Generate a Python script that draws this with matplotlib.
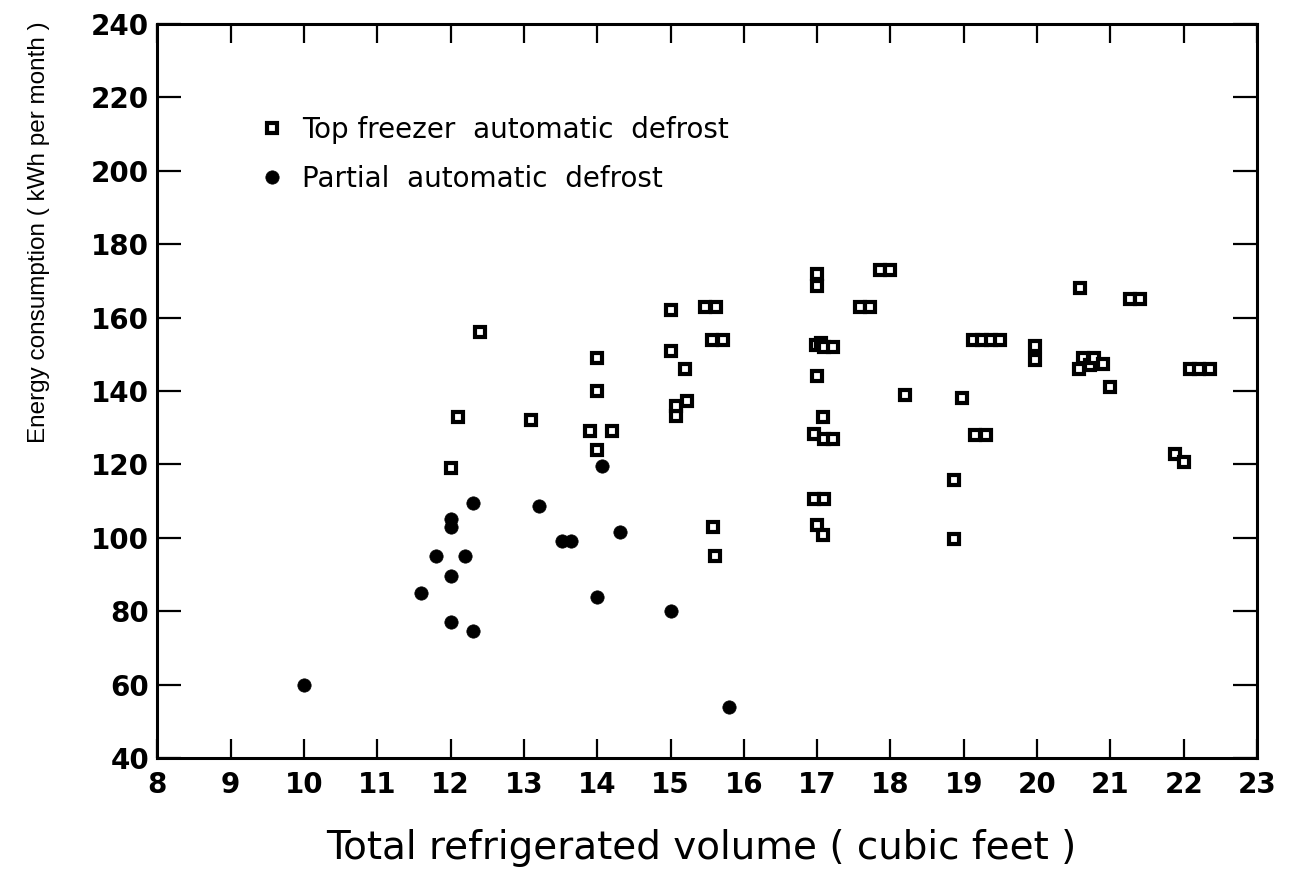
import matplotlib
matplotlib.use("Agg")
import matplotlib.pyplot as plt

# ---- data ----
top_x = [12.0, 12.1, 12.4, 13.1, 13.9, 14.0, 14.0, 14.0, 14.2,
         15.0, 15.0, 15.07, 15.08, 15.2, 15.22, 15.47, 15.62, 15.56, 15.71, 15.58, 15.6,
         17.0, 17.0, 16.98, 17.05, 17.1, 17.22, 17.0, 17.08, 16.96, 17.09, 17.22,
         16.96, 17.1, 17.0, 17.08,
         17.58, 17.72, 17.86, 18.0, 18.2,
         18.97, 18.87, 18.87, 19.13, 19.25, 19.37, 19.49, 19.16, 19.31,
         19.97, 19.97, 20.58, 20.57, 20.63, 20.72, 20.78, 20.9, 21.0,
         21.27, 21.41, 21.88, 22.01, 22.08, 22.21, 22.36]
top_y = [119, 133, 156, 132, 129, 149, 140, 124, 129,
         162, 151, 133.3, 136, 146, 137.4, 163, 163, 154, 154, 103, 95,
         172, 168.6, 152.5, 153, 152, 152, 144, 133, 128.3, 127, 127,
         110.7, 110.7, 103.6, 100.8,
         163, 163, 173, 173, 139,
         138.2, 115.7, 99.8, 154, 154, 154, 154, 128, 128,
         152.3, 148.4, 168, 146, 149, 147, 149, 147.4, 141,
         165, 165, 122.8, 120.6, 146, 146, 146]

partial_x = [10.0, 11.6, 11.8, 12.0, 12.0, 12.0, 12.0, 12.2, 12.3, 12.3,
             13.2, 13.52, 13.64, 14.0, 14.07, 14.31, 15.0, 15.8]
partial_y = [60, 85, 95, 105, 103, 89.6, 77, 95, 109.5, 74.5,
             108.7, 99.2, 99.2, 84, 119.6, 101.7, 80, 54]

x_ticks = list(range(8, 24))
y_ticks = list(range(40, 241, 20))
top_label = "Top freezer  automatic  defrost"
partial_label = "Partial  automatic  defrost"
x_label = "Total refrigerated volume ( cubic feet )"
y_label = "Energy consumption ( kWh per month )"

# ---- figure ----
fig = plt.figure(figsize=(12.94, 8.71), dpi=100)
ax = fig.add_axes([0.1216, 0.1297, 0.9714 - 0.1216, 0.9724 - 0.1297])

ax.plot(top_x, top_y, linestyle="none", marker="s", markersize=6.6,
        markerfacecolor="white", markeredgecolor="black", markeredgewidth=3.0,
        label=top_label, zorder=3)
ax.plot(partial_x, partial_y, linestyle="none", marker="o", markersize=9.6,
        markerfacecolor="black", markeredgecolor="black", markeredgewidth=0.5,
        label=partial_label, zorder=3)

ax.set_xlim(8, 23)
ax.set_ylim(40, 240)
ax.set_xticks(x_ticks)
ax.set_yticks(y_ticks)
ax.set_xticklabels([str(t) for t in x_ticks])
ax.set_yticklabels([str(t) for t in y_ticks])

for s in ax.spines.values():
    s.set_linewidth(2.2)

ax.tick_params(axis="y", which="both", direction="in", length=17, width=1.6,
               left=True, right=True, labelsize=20, pad=6)
ax.tick_params(axis="x", which="both", direction="in", length=13.5, width=1.6,
               bottom=True, top=True, labelsize=20, pad=9)
for lbl in ax.get_xticklabels() + ax.get_yticklabels():
    lbl.set_fontweight("bold")

ax.set_xlabel(x_label, fontsize=28)
ax.xaxis.set_label_coords(0.495, -0.097)
ax.set_ylabel(y_label, fontsize=17.5, family=["Liberation Sans", "DejaVu Sans"])
ax.yaxis.set_label_coords(-0.0977, 0.717)

leg = ax.legend(loc="upper left", bbox_to_anchor=(0.094, 0.875), frameon=False,
                fontsize=20, handlelength=0.8, handletextpad=0.7,
                labelspacing=0.77, borderpad=0, borderaxespad=0)

fig.savefig("out.png", dpi=100)
